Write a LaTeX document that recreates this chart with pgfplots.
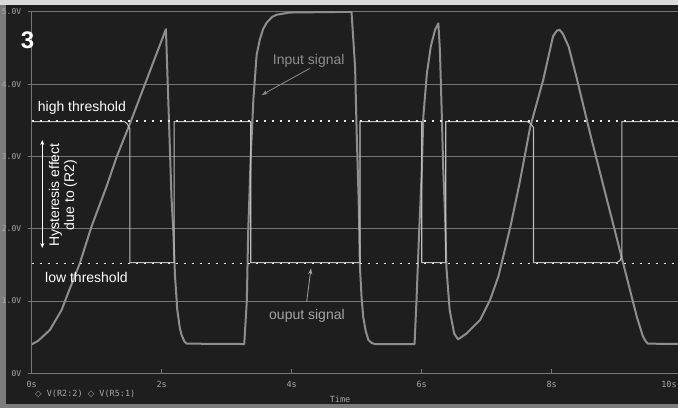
\documentclass[border=0pt]{standalone}
\usepackage{pgfplots}
\pgfplotsset{compat=1.18}
\usetikzlibrary{arrows.meta}
\usepackage{fontspec}
\setmainfont{Liberation Sans}
\newfontfamily\monofont{DejaVu Sans Mono}
\newfontfamily\symfont{DejaVu Sans}
\definecolor{bg}{HTML}{1E1E1E}
\definecolor{gridc}{HTML}{767676}
\definecolor{inc}{HTML}{8E8E8E}
\definecolor{outc}{HTML}{BDBDBD}
\definecolor{dotc}{HTML}{E8E8E8}
\definecolor{ticktext}{HTML}{A8A8A8}
\definecolor{lbl}{HTML}{8E8E8E}
\definecolor{lbltwo}{HTML}{A4A4A4}
\definecolor{framegray}{HTML}{7C7C7C}
\definecolor{frametop}{HTML}{DADADA}
\begin{document}
\begin{tikzpicture}
\fill[framegray] (-31.7pt,-34.7pt) rectangle (646.3pt,373.3pt);
\fill[bg] (-26.2pt,-30.7pt) rectangle (646.3pt,368.3pt);
\begin{axis}[
  scale only axis, width=650pt, height=361.5pt,
  xmin=0, xmax=10, ymin=0, ymax=5,
  axis line style={gridc, line width=1pt},
  xtick={0,2,4,6,8,10}, xticklabels={0s,2s,4s,6s,8s,{\llap{10s\hspace{5pt}}}},
  ytick={0,1,2,3,4,5}, yticklabels={0V,1.0V,2.0V,3.0V,4.0V,5.0V},
  ymajorgrids, grid style={gridc, line width=0.9pt},
  xtick pos=bottom, ytick pos=left,
  tick align=outside, major tick length=4pt,
  tick style={gridc, line width=0.8pt},
  x tick style={yshift=4pt},
  xticklabel style={font=\monofont\fontsize{8.5}{9}\selectfont, text=ticktext},
  yticklabel style={font=\monofont\fontsize{8}{9}\selectfont, text=ticktext, xshift=-3pt},
]
% input signal
\addplot[inc, line width=2pt, line join=round] coordinates {
(0,0.40) (0.1,0.45) (0.28,0.60) (0.46,0.875) (0.56,1.11) (0.74,1.52) (0.92,2.03)
(1.15,2.58) (1.31,3.00) (1.51,3.45) (2.065,4.76) (2.13,3.00) (2.15,2.44) (2.18,1.94)
(2.205,1.34) (2.24,0.875) (2.28,0.62) (2.31,0.52) (2.35,0.44) (2.385,0.41) (3.27,0.405)
(3.31,1.01) (3.33,1.94) (3.37,3.00) (3.41,3.78) (3.46,4.40) (3.51,4.62) (3.56,4.76)
(3.615,4.85) (3.70,4.93) (3.77,4.96) (3.97,4.99) (4.92,5.00) (4.975,4.24) (5.00,3.32)
(5.03,2.40) (5.05,1.47) (5.075,1.05) (5.10,0.78) (5.14,0.58) (5.18,0.46) (5.23,0.42)
(5.28,0.405) (5.89,0.405) (5.92,1.01) (5.96,1.94) (6.00,2.77) (6.025,3.55) (6.08,4.15)
(6.14,4.52) (6.205,4.75) (6.256,4.84) (6.28,4.47) (6.31,3.55) (6.33,2.86) (6.36,2.17)
(6.38,1.47) (6.43,0.875) (6.50,0.55) (6.56,0.47) (6.69,0.55) (6.90,0.74) (7.05,1.01)
(7.18,1.34) (7.28,1.71) (7.37,2.05) (7.51,2.65) (7.67,3.41) (7.87,4.06) (8.02,4.66)
(8.08,4.74) (8.12,4.75) (8.17,4.70) (8.26,4.52) (8.38,4.10) (8.59,3.32) (8.85,2.40)
(9.10,1.52) (9.31,0.78) (9.40,0.52) (9.44,0.45) (9.48,0.41) (10,0.405)
};
% output signal
\addplot[outc, line width=1.1pt] coordinates {
(0,3.48) (1.43,3.48) (1.47,3.45) (1.50,3.40) (1.51,3.38) (1.51,1.53) (2.19,1.53)
(2.19,3.48) (3.37,3.48) (3.37,1.53) (5.05,1.53) (5.05,3.48) (6.00,3.48) (6.00,1.53)
(6.37,1.53) (6.37,3.48) (7.63,3.48) (7.68,3.45) (7.72,3.40) (7.72,1.53) (9.00,1.53)
(9.05,1.56) (9.08,1.62) (9.08,3.48) (10,3.48)
};
% thresholds
\addplot[dotc, line width=1.6pt, dash pattern=on 2pt off 6pt] coordinates {(0,3.49) (10,3.49)};
\addplot[dotc, line width=1.6pt, dash pattern=on 2pt off 6pt] coordinates {(0,1.52) (10,1.52)};
\end{axis}
% annotations
\node[anchor=base west, inner sep=0, text=white, font=\fontsize{14}{16}\selectfont] at (6pt,261.3pt) {high threshold};
\node[anchor=base west, inner sep=0, text=white, font=\fontsize{14}{16}\selectfont] at (13.3pt,91.3pt) {low threshold};
\node[anchor=base west, inner sep=0, text=lbl, font=\fontsize{14}{16}\selectfont] at (241pt,308.3pt) {Input signal};
\node[anchor=base west, inner sep=0, text=lbltwo, font=\fontsize{14}{16}\selectfont] at (237.3pt,53.8pt) {ouput signal};
\node[inner sep=0, text=white, font=\bfseries\fontsize{24}{24}\selectfont] at (-4.2pt,332.8pt) {3};
\node[rotate=90, align=center, inner sep=0, text=white, font=\fontsize{14}{15}\selectfont] at (31.3pt,178.3pt) {Hysteresis effect\\due to (R2)};
\draw[white, line width=0.8pt, {Stealth[length=5pt,width=4pt]}-{Stealth[length=5pt,width=4pt]}] (10.6pt,125.3pt) -- (10.6pt,233.3pt);
\draw[lbl, line width=0.8pt, -{Stealth[length=6pt,width=4pt]}] (278.3pt,305pt) -- (230pt,278.3pt);
\draw[lbltwo, line width=0.8pt, -{Stealth[length=6pt,width=4pt]}] (275pt,71.6pt) -- (279.3pt,105pt);
\node[anchor=base west, inner sep=0, text=ticktext, font=\monofont\fontsize{8.5}{9}\selectfont] at (3.3pt,-23.2pt) {{\symfont ◇} V(R2:2) {\symfont ◇} V(R5:1)};
\node[anchor=north, inner sep=0, text=ticktext, font=\monofont\fontsize{8.5}{9}\selectfont] at (308.3pt,-22.8pt) {Time};
% frame
\fill[framegray] (-31.7pt,-34.7pt) rectangle (646.3pt,-30.7pt);
\fill[frametop] (-31.7pt,368.3pt) rectangle (646.3pt,373.3pt);
\pgfresetboundingbox
\useasboundingbox (-31.7pt,-34.7pt) rectangle (646.3pt,373.3pt);
\end{tikzpicture}
\end{document}
